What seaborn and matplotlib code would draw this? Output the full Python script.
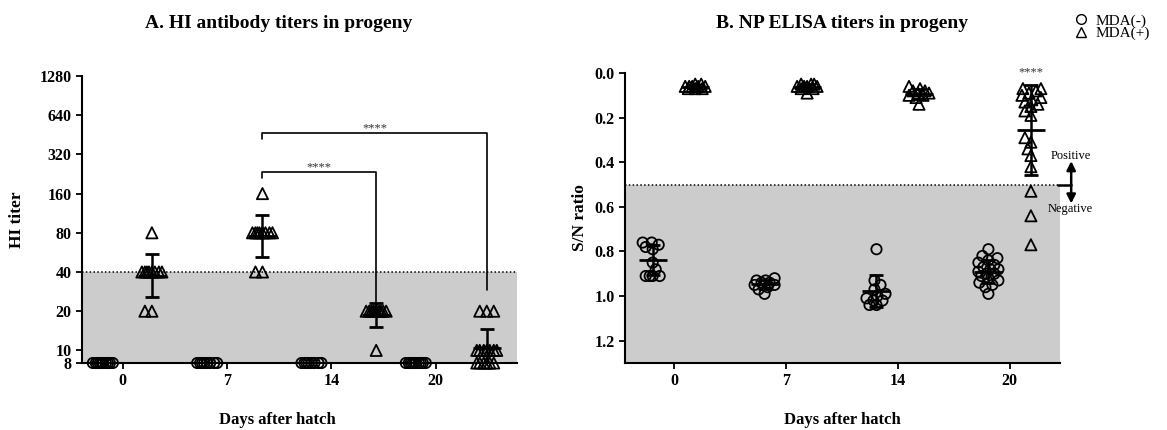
import numpy as np
import matplotlib
matplotlib.use("Agg")
import matplotlib.pyplot as plt
import seaborn as sns
from matplotlib.lines import Line2D
from matplotlib.ticker import NullLocator

days = ["0", "7", "14", "20"]

# panel A: HI titers, one list per day
hi_neg = [[8] * 10, [8] * 8, [8] * 8, [8] * 10]
hi_pos = [
    [80] + [40] * 8 + [20] * 2,
    [160] + [80] * 8 + [40] * 2,
    [20] * 10 + [10],
    [20] * 3 + [10] * 7 + [8] * 6,
]
hi_ticks = [8, 10, 20, 40, 80, 160, 320, 640, 1280]

# panel B: NP ELISA S/N ratios, one list per day
sn_neg = [
    [0.76, 0.76, 0.77, 0.78, 0.79, 0.85, 0.88, 0.91, 0.91, 0.91, 0.91],
    [0.92, 0.93, 0.93, 0.94, 0.94, 0.95, 0.95, 0.96, 0.97, 0.99],
    [0.79, 0.93, 0.95, 0.97, 0.99, 1.00, 1.01, 1.02, 1.02, 1.04, 1.04],
    [0.79, 0.82, 0.83, 0.84, 0.85, 0.86, 0.87, 0.88, 0.88, 0.89, 0.90,
     0.90, 0.91, 0.92, 0.93, 0.94, 0.95, 0.96, 0.99],
]
sn_pos = [
    [0.05, 0.05, 0.06, 0.06, 0.06, 0.06, 0.06, 0.07, 0.07, 0.07],
    [0.05, 0.05, 0.05, 0.06, 0.06, 0.06, 0.06, 0.07, 0.07, 0.09],
    [0.06, 0.07, 0.08, 0.08, 0.09, 0.09, 0.10, 0.10, 0.11, 0.14],
    [0.07, 0.07, 0.08, 0.09, 0.10, 0.11, 0.12, 0.13, 0.14, 0.15, 0.17,
     0.19, 0.29, 0.31, 0.34, 0.37, 0.42, 0.53, 0.64, 0.77],
]
sn_ticks = [0.0, 0.2, 0.4, 0.6, 0.8, 1.0, 1.2]

# significance brackets in panel A: (from day, to day, height, right end)
hi_brackets = [(1, 2, 233, 23.5), (1, 3, 465, 29)]


def swarm_x(ax, xc, vals, half=10, dmin=7):
    # simple beeswarm done in pixel space, limited to +-half px
    n = len(vals)
    disp = ax.transData.transform(np.column_stack([np.full(n, xc), vals]))
    x0, ys = disp[0, 0], disp[:, 1]
    cands = sorted(np.arange(-half, half + 0.5, 1.0), key=abs)
    placed = []
    offs = np.zeros(n)
    for i in np.argsort(ys, kind="stable"):
        best, best_d = 0.0, -1.0
        for c in cands:
            d = min((np.hypot(c - px, ys[i] - py) for px, py in placed), default=1e9)
            if d >= dmin:
                best = c
                break
            if d > best_d:
                best, best_d = c, d
        offs[i] = best
        placed.append((best, ys[i]))
    back = ax.transData.inverted().transform(np.column_stack([x0 + offs, ys]))
    return back[:, 0]


def draw_points(ax, xc, vals, marker, s):
    xs = swarm_x(ax, xc, vals)
    sns.scatterplot(x=xs, y=vals, ax=ax, marker=marker, s=s, color="black",
                    facecolor="none", edgecolor="black", linewidth=1.3,
                    clip_on=False, zorder=3, legend=False)


def draw_err(ax, x, mean, lo, hi):
    ax.errorbar([x], [mean], yerr=[[mean - lo], [hi - mean]], fmt="_", ms=20,
                mew=2, color="black", ecolor="black", elinewidth=1.8,
                capsize=5, capthick=1.8, zorder=4)


sns.set_style("ticks")
plt.rcParams["font.family"] = ["Liberation Serif", "DejaVu Serif"]
for key in ("text.color", "axes.labelcolor", "xtick.color", "ytick.color",
            "axes.edgecolor"):
    plt.rcParams[key] = "black"

W, H = 1167, 430
fig = plt.figure(figsize=(W / 100, H / 100), dpi=100)
axA = fig.add_axes([82 / W, 1 - 363 / H, 435 / W, 287 / H])
axB = fig.add_axes([625 / W, 1 - 363 / H, 435 / W, 290 / H])
pos = np.arange(len(days))

# ---- panel A ----
axA.set_yscale("log", base=2)
axA.set_ylim(8, 1280)
axA.set_xlim(-0.39, 3.78)
axA.set_yticks(hi_ticks)
axA.set_yticklabels([str(t) for t in hi_ticks])
axA.yaxis.set_minor_locator(NullLocator())
axA.axhspan(8, 40, color="#cccccc", zorder=0, lw=0)
axA.axhline(40, ls=(0, (1, 1.5)), color="black", lw=1.1, zorder=1)

neg_off_a = -0.19
pos_off_a = [0.28, 0.34, 0.43, 0.49]
for i in range(len(days)):
    for xc, vals, mk, s in [(pos[i] + neg_off_a, hi_neg[i], "o", 55),
                            (pos[i] + pos_off_a[i], hi_pos[i], "^", 65)]:
        draw_points(axA, xc, vals, mk, s)
        lg = np.log2(vals)
        m, sd = lg.mean(), lg.std(ddof=1)
        draw_err(axA, xc, 2 ** m, 2 ** (m - sd), 2 ** (m + sd))

for a, b, h, end in hi_brackets:
    xa, xb = pos[a] + pos_off_a[a], pos[b] + pos_off_a[b]
    axA.plot([xa, xa, xb, xb], [h * 0.91, h, h, end], color="black", lw=1.2,
             clip_on=False, zorder=2)
    axA.text((xa + xb) / 2, h * 1.04, "****", ha="center", va="baseline",
             fontsize=9, color="#333333")

# ---- panel B ----
axB.set_ylim(1.3, 0.0)
axB.set_xlim(-0.4375, 3.45)
axB.set_yticks(sn_ticks)
axB.set_yticklabels([f"{t:.1f}" for t in sn_ticks])
axB.axhspan(0.5, 1.3, color="#cccccc", zorder=0, lw=0)
axB.axhline(0.5, ls=(0, (1, 1.5)), color="black", lw=1.1, zorder=1)

for i in range(len(days)):
    for xc, vals, mk, s in [(pos[i] - 0.19, sn_neg[i], "o", 55),
                            (pos[i] + 0.19, sn_pos[i], "^", 65)]:
        draw_points(axB, xc, vals, mk, s)
        v = np.asarray(vals)
        m, sd = v.mean(), v.std(ddof=1)
        draw_err(axB, xc, m, m - sd, m + sd)

axB.text(pos[3] + 0.19, 0.012, "****", ha="center", va="baseline",
         fontsize=9, color="#333333")

# positive / negative cut-off marker
axB.plot([3.43, 3.55], [0.5, 0.5], color="black", lw=1.8, clip_on=False)
for y_end in (0.395, 0.585):
    axB.annotate("", xy=(3.55, y_end), xytext=(3.55, 0.5),
                 arrowprops=dict(arrowstyle="-|>", color="black", lw=1.8,
                                 mutation_scale=13, shrinkA=0, shrinkB=0),
                 annotation_clip=False)
axB.text(3.545, 0.37, "Positive", ha="center", va="center", fontsize=9)
axB.text(3.545, 0.61, "Negative", ha="center", va="center", fontsize=9)

# ---- shared styling ----
for ax, ylab in [(axA, "HI titer"), (axB, "S/N ratio")]:
    ax.set_xticks(pos)
    ax.set_xticklabels(days)
    ax.tick_params(labelsize=11.5, width=1.3, length=4)
    for lab in ax.get_xticklabels() + ax.get_yticklabels():
        lab.set_fontweight("bold")
    ax.set_xlabel("Days after hatch", fontsize=12, fontweight="bold")
    ax.set_ylabel(ylab, fontsize=12.5, fontweight="bold")
    for sp in ("left", "bottom"):
        ax.spines[sp].set_linewidth(1.5)
    ax.set_facecolor("none")
sns.despine(fig=fig)

axA.xaxis.set_label_coords(0.45, -0.17)
axB.xaxis.set_label_coords(0.5, -0.17)
axA.yaxis.set_label_coords(-0.13, 0.5)
axB.yaxis.set_label_coords(-0.085, 0.5)

fig.text(279 / W, 1 - 24 / H, "A. HI antibody titers in progeny",
         ha="center", va="center", fontsize=14, fontweight="bold")
fig.text(842 / W, 1 - 24 / H, "B. NP ELISA titers in progeny",
         ha="center", va="center", fontsize=14, fontweight="bold")

handles = [
    Line2D([], [], ls="", marker="o", mfc="none", mec="black", ms=7, mew=1),
    Line2D([], [], ls="", marker="^", mfc="none", mec="black", ms=7, mew=1),
]
fig.legend(handles, ["MDA(-)", "MDA(+)"], loc="upper left",
           bbox_to_anchor=(1073 / W, 1 - 14 / H), frameon=False, fontsize=11,
           handlelength=1, handletextpad=0.5, labelspacing=-0.1,
           borderpad=0, borderaxespad=0)

fig.savefig("out.png", dpi=100)
